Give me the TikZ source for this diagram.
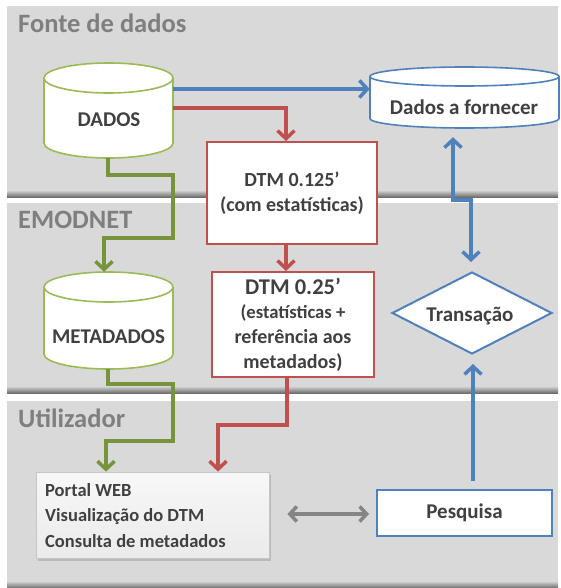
\documentclass[tikz,border=0pt]{standalone}
\usepackage{fontspec}
\setmainfont{Carlito}
\usetikzlibrary{arrows.meta,shapes.geometric,shadows}
\definecolor{bandgray}{HTML}{D9D9D9}
\definecolor{shadowgray}{HTML}{6E6E6E}
\definecolor{titlegray}{HTML}{7F7F7F}
\definecolor{txtgray}{HTML}{404040}
\definecolor{greenline}{HTML}{77933C}
\definecolor{greenborder}{HTML}{9BBB59}
\definecolor{redline}{HTML}{C0504D}
\definecolor{blueline}{HTML}{4F81BD}
\definecolor{arrgray}{HTML}{858585}
\newcommand\mycyl[6]{%
  \filldraw[draw=#6, fill=white, line width=1.6pt]
    (#1-#4,#2+#5) -- (#1-#4,#3-#5)
    arc[start angle=180,end angle=360,x radius=#4pt,y radius=#5pt]
    -- (#1+#4,#2+#5)
    arc[start angle=0,end angle=180,x radius=#4pt,y radius=#5pt] -- cycle;
  \draw[draw=#6, line width=1.6pt] (#1-#4,#2+#5)
    arc[start angle=180,end angle=360,x radius=#4pt,y radius=#5pt];
}
\tikzset{
  bandtitle/.style={anchor=west, text=titlegray, font=\fontsize{26.5}{30}\selectfont\bfseries, inner sep=0pt},
  txt/.style={text=txtgray, font=\fontsize{21}{25}\selectfont\bfseries, inner sep=0pt},
  hidden/.style={inner sep=0pt, draw=none},
  redbox/.style={draw=redline, line width=2pt, fill=white, inner sep=0pt, align=center,
    text=txtgray, font=\fontsize{20}{25}\selectfont\bfseries},
  bluebox/.style={draw=blueline, line width=2pt, fill=white, inner sep=0pt,
    text=txtgray, font=\fontsize{21}{25}\selectfont\bfseries},
  tip/.style={-{Straight Barb[length=8pt,width=17pt]}},
  garr/.style={draw=greenline, line width=3.5pt, tip},
  rarr/.style={draw=redline, line width=3.5pt, tip},
  barr/.style={draw=blueline, line width=3.5pt, tip},
  grarr/.style={draw=arrgray, line width=3.5pt, {Straight Barb[length=7pt,width=15pt]}-{Straight Barb[length=7pt,width=15pt]}},
}
\begin{document}
\begin{tikzpicture}[x=1pt,y=-1pt]
\useasboundingbox (0,0) rectangle (561,588);
\fill[white] (0,0) rectangle (561,588);
% bands
\fill[bandgray] (7,6) rectangle (558,192);
\shade[top color=bandgray, bottom color=shadowgray] (7,190) rectangle (558,197);
\fill[bandgray] (7,203) rectangle (558,387);
\shade[top color=bandgray, bottom color=shadowgray] (7,386) rectangle (558,393);
\fill[bandgray] (7,401) rectangle (558,582);
\shade[top color=bandgray, bottom color=shadowgray] (7,581) rectangle (558,588);
\node[bandtitle] (t1) at (18,23) {Fonte de dados};
\node[bandtitle] (t2) at (18,220) {EMODNET};
\node[bandtitle] (t3) at (18,418) {Utilizador};
% cylinders
\mycyl{108.5}{63}{158}{64.5}{15}{greenborder}
\node[hidden, minimum width=129pt, minimum height=95pt] (dados) at (108.5,110.5) {};
\node[txt] (dadosT) at (109,120) {DADOS};
\mycyl{108.5}{272}{369}{64.5}{15}{greenborder}
\node[hidden, minimum width=129pt, minimum height=97pt] (meta) at (108.5,320.5) {};
\node[txt] (metaT) at (108.5,337) {METADADOS};
\mycyl{464.5}{67}{128}{94.5}{9.5}{blueline}
\node[hidden, minimum width=189pt, minimum height=61pt] (forn) at (464.5,97.5) {};
\node[txt] (fornT) at (464,107) {Dados a fornecer};
% boxes
\node[redbox, minimum width=170pt, minimum height=102pt] (dtm1) at (292,193)
  {DTM 0.125’\\(com estatísticas)};
\node[redbox, minimum width=162pt, minimum height=105pt] (dtm2) at (293,324.5)
  {{\fontsize{22.5}{22}\selectfont DTM 0.25’}\\[-1pt]
   \fontsize{18.7}{22}\selectfont (estatísticas +\\ referência aos\\ metadados)};
\node[draw=blueline, line width=2pt, fill=white, diamond, inner sep=0pt,
      minimum width=160pt, minimum height=82pt] (trans) at (472,313) {};
\node[txt] (transT) at (470,316) {Transação};
\node[bluebox, minimum width=175pt, minimum height=46pt] (pesq) at (464.5,513) {Pesquisa};
\node[draw=gray!45, line width=0.8pt, top color=gray!6, bottom color=gray!16,
      minimum width=233pt, minimum height=86pt, inner sep=0pt,
      drop shadow={shadow xshift=2pt, shadow yshift=-3pt, opacity=0.35}] (portal) at (152.5,515) {};
\node[txt, anchor=west, align=left, font=\fontsize{18.5}{25.5}\selectfont\bfseries] (portalT) at (45,515.5)
  {Portal WEB\\Visualização do DTM\\Consulta de metadados};
% connectors
\draw[barr] (dados.east |- 0,89) -- (forn.west |- 0,89);
\draw[rarr] (dados.east |- 0,108) -- (286,108) -- (dtm1.north -| 286,0);
\draw[garr] (dados.south -| 108,0) -- (108,175) -- (173,175) -- (173,238) -- (104,238) -- (meta.north -| 104,0);
\draw[rarr] (dtm1.south -| 286,0) -- (dtm2.north -| 286,0);
\draw[barr, {Straight Barb[length=8pt,width=17pt]}-{Straight Barb[length=8pt,width=17pt]},
      shorten <=9pt, shorten >=9pt]
  (forn.south -| 453,0) -- (453,200) -- (471,200) -- (trans.north -| 471,0);
\draw[barr, shorten <=8pt, shorten >=9pt] (pesq.north -| 473,0) -- (trans.south -| 473,0);
\draw[garr] (meta.south -| 108,0) -- (108,384) -- (173,384) -- (173,441) -- (106,441) -- (portal.north -| 106,0);
\draw[rarr] (dtm2.south -| 287,0) -- (287,425) -- (218,425) -- (portal.north -| 218,0);
\draw[grarr, shorten <=18pt, shorten >=7pt] (portal.east |- 0,514) -- (pesq.west |- 0,514);
\end{tikzpicture}
\end{document}
